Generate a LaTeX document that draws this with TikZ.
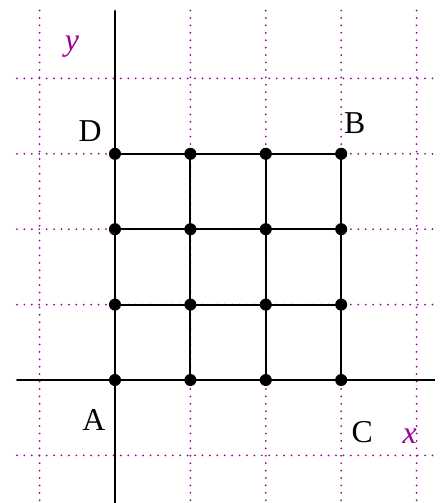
\documentclass[tikz,border=0pt]{standalone}
\usepackage{fontspec}
\setmainfont{Liberation Serif}
\definecolor{gridpurple}{RGB}{153,0,153}
\tikzset{
  dotgrid/.style={gridpurple, line width=0.75pt, line cap=round, dash pattern=on 0pt off 2.8pt},
  axisline/.style={black, line width=0.8pt},
  meshline/.style={black, line width=0.8pt},
  vertex/.style={circle, fill=black, inner sep=0pt, minimum size=0.16cm},
  lbl/.style={font=\fontsize{12}{14}\selectfont, text=black, inner sep=0pt},
  axlbl/.style={font=\fontsize{12}{14}\selectfont\itshape, text=gridpurple, inner sep=0pt}
}
\begin{document}
\begin{tikzpicture}[x=1cm,y=1cm]
\useasboundingbox (-1.525,-1.631) rectangle (4.39,5.04);
% dotted grid
\foreach \i in {-1,...,4} {
  \draw[dotgrid] (\i,4.9) -- (\i,-1.631);
  \draw[dotgrid] (-1.3,\i) -- (4.22,\i);
}
% axes
\coordinate (ytop) at (0,4.9);
\coordinate (ybot) at (0,-1.631);
\coordinate (xleft) at (-1.3,0);
\coordinate (xright) at (4.24,0);
\draw[axisline] (ybot) -- (ytop);
\draw[axisline] (xleft) -- (xright);
% vertices (positions)
\foreach \i in {0,...,3} {
  \foreach \j in {0,...,3} {
    \coordinate (p\i\j) at (\i,\j);
  }
}
% mesh
\foreach \i in {0,...,3} {
  \draw[meshline] (p\i0) -- (p\i3);
  \draw[meshline] (p0\i) -- (p3\i);
}
\foreach \i in {0,...,3} {
  \foreach \j in {0,...,3} {
    \node[vertex] (v\i\j) at (p\i\j) {};
  }
}
% labels
\node[axlbl] (ylab) at (-0.57,4.42) {y};
\node[lbl] (Dlab) at (-0.33,3.30) {D};
\node[lbl] (Blab) at (3.18,3.41) {B};
\node[lbl] (Alab) at (-0.28,-0.53) {A};
\node[lbl] (Clab) at (3.28,-0.69) {C};
\node[axlbl] (xlab) at (3.91,-0.74) {x};
\end{tikzpicture}
\end{document}
